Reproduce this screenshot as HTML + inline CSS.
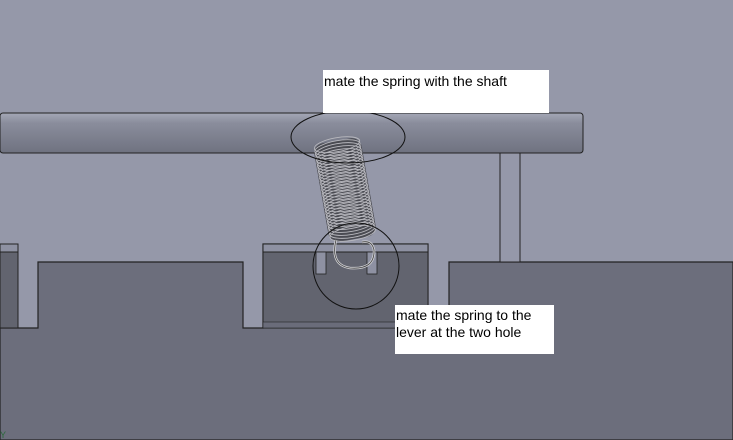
<!DOCTYPE html>
<html><head><style>body{margin:0;width:733px;height:440px;overflow:hidden;background:#9598a9}</style></head><body>
<svg width="733" height="440" xmlns="http://www.w3.org/2000/svg" style="position:absolute;left:0;top:0">
<defs>
<linearGradient id="sh" x1="0" y1="0" x2="0" y2="1">
<stop offset="0" stop-color="#a4a7b6"/><stop offset="0.25" stop-color="#8a8d9c"/><stop offset="1" stop-color="#6f7280"/>
</linearGradient>
</defs>
<rect width="733" height="440" fill="#9598a9"/>
<path d="M0 328 H38 V262 H243 V328 H263 V244 H428 V328 H449 V262 H733 V440 H0 Z" fill="#6c6e7c" stroke="#222" stroke-width="1.2"/>
<rect x="0" y="244" width="18" height="84" fill="#62646f" stroke="#222"/>
<rect x="0" y="244" width="18" height="8" fill="#8e91a2" stroke="#222"/>
<rect x="263" y="244" width="165" height="84" fill="#62646f" stroke="#222"/>
<rect x="263" y="244" width="165" height="8" fill="#8e91a2" stroke="#222"/>
<rect x="263" y="322" width="165" height="6" fill="#6a6c7a" stroke="#222" stroke-width="0.6"/>
<rect x="316" y="252" width="10" height="22" fill="#8e91a2" stroke="#222" stroke-width="0.8"/>
<rect x="367" y="252" width="10" height="22" fill="#8e91a2" stroke="#222" stroke-width="0.8"/>
<!-- post -->
<rect x="500" y="113" width="20" height="149" fill="#9598a9" stroke="#222"/>
<rect x="0" y="113" width="583" height="40" rx="3" fill="url(#sh)" stroke="#222"/>
<g transform="rotate(-10 345 190)">
<rect x="321" y="140" width="48" height="100" rx="10" fill="#4a4b52"/>
<g fill="none" stroke="#b8b8be" stroke-width="0.9">
<ellipse cx="345" cy="144" rx="23" ry="7"/><ellipse cx="345" cy="147" rx="23" ry="7"/><ellipse cx="345" cy="150" rx="23" ry="7"/><ellipse cx="345" cy="153" rx="23" ry="7"/><ellipse cx="345" cy="156" rx="23" ry="7"/><ellipse cx="345" cy="159" rx="23" ry="7"/><ellipse cx="345" cy="162" rx="23" ry="7"/><ellipse cx="345" cy="165" rx="23" ry="7"/><ellipse cx="345" cy="168" rx="23" ry="7"/><ellipse cx="345" cy="171" rx="23" ry="7"/><ellipse cx="345" cy="174" rx="23" ry="7"/><ellipse cx="345" cy="177" rx="23" ry="7"/><ellipse cx="345" cy="180" rx="23" ry="7"/><ellipse cx="345" cy="183" rx="23" ry="7"/><ellipse cx="345" cy="186" rx="23" ry="7"/><ellipse cx="345" cy="189" rx="23" ry="7"/><ellipse cx="345" cy="192" rx="23" ry="7"/><ellipse cx="345" cy="195" rx="23" ry="7"/><ellipse cx="345" cy="198" rx="23" ry="7"/><ellipse cx="345" cy="201" rx="23" ry="7"/><ellipse cx="345" cy="204" rx="23" ry="7"/><ellipse cx="345" cy="207" rx="23" ry="7"/><ellipse cx="345" cy="210" rx="23" ry="7"/><ellipse cx="345" cy="213" rx="23" ry="7"/><ellipse cx="345" cy="216" rx="23" ry="7"/><ellipse cx="345" cy="219" rx="23" ry="7"/><ellipse cx="345" cy="222" rx="23" ry="7"/><ellipse cx="345" cy="225" rx="23" ry="7"/><ellipse cx="345" cy="228" rx="23" ry="7"/><ellipse cx="345" cy="231" rx="23" ry="7"/><ellipse cx="345" cy="234" rx="23" ry="7"/>
</g>
</g>
<path d="M336 240 Q330 265 350 268 Q375 270 374 250 Q372 240 362 242" fill="none" stroke="#d0d0d4" stroke-width="2.5"/>
<path d="M336 240 Q330 265 350 268 Q375 270 374 250 Q372 240 362 242" fill="none" stroke="#444" stroke-width="0.8"/>
<ellipse cx="348" cy="137" rx="57" ry="26" fill="none" stroke="#111" stroke-width="1"/>
<circle cx="356" cy="266" r="43" fill="none" stroke="#111" stroke-width="1"/>
<rect x="323" y="70" width="226" height="43" fill="#fff"/>
<text x="324" y="86" font-family="Liberation Sans, sans-serif" font-size="14" fill="#000">mate the spring with the shaft</text>
<rect x="395" y="305" width="159" height="49" fill="#fff"/>
<text x="396" y="320" font-family="Liberation Sans, sans-serif" font-size="14" fill="#000">mate the spring to the</text>
<text x="396" y="337" font-family="Liberation Sans, sans-serif" font-size="14" fill="#000">lever at the two hole</text>
<text x="0" y="438" font-family="Liberation Sans, sans-serif" font-size="9" fill="#2a6a3a">Y</text>
</svg>
</body></html>
